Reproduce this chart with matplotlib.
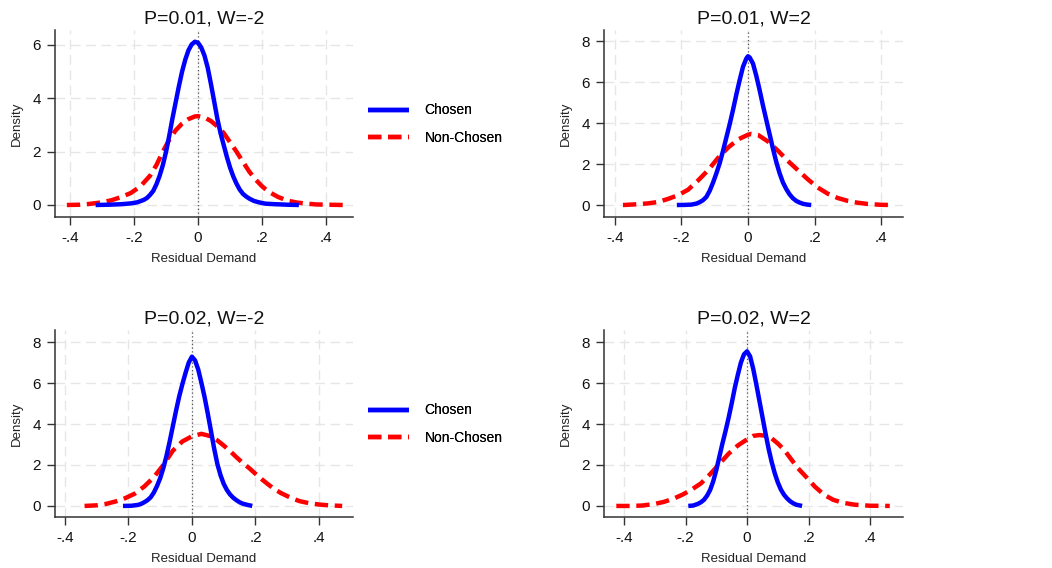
import matplotlib
matplotlib.use("Agg")
import matplotlib.pyplot as plt

plt.rcParams['font.family'] = ['Liberation Sans', 'DejaVu Sans']

# =========================
# Data
# =========================
titles = ["P=0.01, W=-2", "P=0.01, W=2", "P=0.02, W=-2", "P=0.02, W=2"]

# P=0.01, W=-2
chosen_x_1 = [-0.32, -0.28, -0.24, -0.21, -0.19, -0.17, -0.16, -0.15, -0.14, -0.13,
              -0.12, -0.11, -0.10, -0.09, -0.08, -0.07, -0.06, -0.05, -0.04, -0.03,
              -0.02, -0.01, 0.0, 0.01, 0.02, 0.03, 0.04, 0.05, 0.06, 0.07,
              0.08, 0.09, 0.10, 0.11, 0.12, 0.13, 0.14, 0.15, 0.16, 0.175,
              0.19, 0.21, 0.24, 0.28, 0.315]
chosen_y_1 = [0.0, 0.01, 0.03, 0.06, 0.10, 0.19, 0.26, 0.38, 0.53, 0.78,
              1.1, 1.5, 2.0, 2.6, 3.25, 3.85, 4.45, 5.0, 5.45, 5.8,
              6.02, 6.12, 6.08, 5.9, 5.6, 5.15, 4.55, 3.9, 3.25, 2.7,
              2.25, 1.8, 1.4, 1.07, 0.8, 0.58, 0.42, 0.32, 0.24, 0.15,
              0.10, 0.05, 0.03, 0.01, 0.0]
nonchosen_x_1 = [-0.41, -0.37, -0.34, -0.30, -0.27, -0.24, -0.21, -0.18, -0.15, -0.13,
                 -0.11, -0.09, -0.07, -0.05, -0.03, -0.01, 0.0, 0.02, 0.04, 0.06,
                 0.08, 0.10, 0.12, 0.14, 0.16, 0.18, 0.20, 0.22, 0.25, 0.28,
                 0.31, 0.34, 0.37, 0.41, 0.453]
nonchosen_y_1 = [0.0, 0.01, 0.04, 0.10, 0.18, 0.30, 0.45, 0.70, 1.1, 1.5,
                 2.0, 2.45, 2.8, 3.05, 3.22, 3.32, 3.33, 3.28, 3.15, 2.95,
                 2.7, 2.35, 2.0, 1.62, 1.25, 0.95, 0.70, 0.50, 0.30, 0.16,
                 0.09, 0.05, 0.02, 0.01, 0.0]

# P=0.01, W=2
chosen_x_2 = [-0.214, -0.19, -0.17, -0.155, -0.145, -0.135, -0.125, -0.115, -0.105, -0.095,
              -0.085, -0.075, -0.065, -0.055, -0.045, -0.035, -0.025, -0.015, -0.005, 0.0,
              0.005, 0.015, 0.025, 0.035, 0.045, 0.055, 0.065, 0.075, 0.085, 0.095,
              0.105, 0.115, 0.125, 0.135, 0.145, 0.155, 0.165, 0.178, 0.19]
chosen_y_2 = [0.0, 0.005, 0.02, 0.07, 0.14, 0.24, 0.40, 0.70, 1.1, 1.55,
              2.05, 2.65, 3.3, 3.95, 4.65, 5.4, 6.1, 6.75, 7.15, 7.26,
              7.2, 6.9, 6.3, 5.6, 4.85, 4.15, 3.45, 2.75, 2.1, 1.55,
              1.1, 0.78, 0.52, 0.33, 0.20, 0.12, 0.06, 0.02, 0.0]
nonchosen_x_2 = [-0.376, -0.34, -0.30, -0.27, -0.24, -0.21, -0.18, -0.15, -0.12, -0.09,
                 -0.06, -0.03, 0.0, 0.01, 0.03, 0.06, 0.09, 0.12, 0.15, 0.18,
                 0.21, 0.24, 0.27, 0.30, 0.33, 0.36, 0.40, 0.432]
nonchosen_y_2 = [0.0, 0.03, 0.08, 0.15, 0.30, 0.48, 0.75, 1.2, 1.7, 2.3,
                 2.8, 3.2, 3.43, 3.47, 3.42, 3.1, 2.65, 2.15, 1.7, 1.25,
                 0.85, 0.55, 0.34, 0.20, 0.11, 0.05, 0.01, 0.0]

# P=0.02, W=-2
chosen_x_3 = [-0.217, -0.19, -0.17, -0.16, -0.15, -0.14, -0.13, -0.12, -0.11, -0.10,
              -0.09, -0.08, -0.07, -0.06, -0.05, -0.04, -0.03, -0.02, -0.01, 0.0,
              0.01, 0.02, 0.03, 0.04, 0.05, 0.06, 0.07, 0.08, 0.09, 0.10,
              0.11, 0.12, 0.13, 0.14, 0.15, 0.16, 0.175, 0.19]
chosen_y_3 = [0.0, 0.01, 0.05, 0.10, 0.18, 0.28, 0.42, 0.65, 0.97, 1.35,
              1.85, 2.45, 3.15, 3.9, 4.65, 5.35, 5.95, 6.5, 7.0, 7.29,
              7.1, 6.65, 6.0, 5.3, 4.5, 3.65, 2.8, 2.05, 1.5, 1.08,
              0.78, 0.56, 0.40, 0.28, 0.18, 0.11, 0.05, 0.0]
nonchosen_x_3 = [-0.338, -0.30, -0.27, -0.24, -0.21, -0.18, -0.15, -0.12, -0.09, -0.06,
                 -0.03, 0.0, 0.03, 0.06, 0.08, 0.10, 0.12, 0.14, 0.16, 0.18,
                 0.20, 0.22, 0.24, 0.26, 0.28, 0.30, 0.32, 0.34, 0.37, 0.40,
                 0.43, 0.473]
nonchosen_y_3 = [0.0, 0.03, 0.10, 0.22, 0.38, 0.60, 0.95, 1.4, 2.0, 2.7,
                 3.15, 3.4, 3.52, 3.4, 3.2, 2.95, 2.68, 2.38, 2.1, 1.85,
                 1.57, 1.3, 1.05, 0.82, 0.63, 0.48, 0.34, 0.23, 0.13, 0.07,
                 0.03, 0.0]

# P=0.02, W=2
chosen_x_4 = [-0.191, -0.175, -0.16, -0.15, -0.14, -0.13, -0.12, -0.11, -0.10, -0.09,
              -0.08, -0.07, -0.06, -0.05, -0.04, -0.03, -0.02, -0.01, 0.0, 0.01,
              0.02, 0.03, 0.04, 0.05, 0.06, 0.07, 0.08, 0.09, 0.10, 0.11,
              0.12, 0.13, 0.14, 0.15, 0.16, 0.179]
chosen_y_4 = [0.0, 0.02, 0.10, 0.18, 0.30, 0.50, 0.78, 1.2, 1.75, 2.4,
              3.05, 3.65, 4.3, 5.0, 5.75, 6.4, 7.0, 7.4, 7.55, 7.3,
              6.7, 5.95, 5.15, 4.35, 3.55, 2.8, 2.15, 1.6, 1.15, 0.8,
              0.55, 0.37, 0.23, 0.13, 0.06, 0.0]
nonchosen_x_4 = [-0.425, -0.38, -0.34, -0.30, -0.27, -0.24, -0.21, -0.18, -0.15, -0.12,
                 -0.09, -0.06, -0.03, 0.0, 0.02, 0.04, 0.06, 0.08, 0.10, 0.12,
                 0.14, 0.165, 0.195, 0.22, 0.25, 0.28, 0.31, 0.35, 0.40, 0.464]
nonchosen_y_4 = [0.0, 0.0, 0.02, 0.10, 0.20, 0.35, 0.55, 0.80, 1.1, 1.55,
                 2.05, 2.55, 2.95, 3.25, 3.42, 3.46, 3.43, 3.3, 3.05, 2.75,
                 2.35, 1.85, 1.37, 0.95, 0.55, 0.30, 0.16, 0.06, 0.01, 0.0]

x_ticks = [-0.4, -0.2, 0.0, 0.2, 0.4]
x_ticklabels = ["-.4", "-.2", "0", ".2", ".4"]
y_ticks_1 = [0, 2, 4, 6]
y_ticks_other = [0, 2, 4, 6, 8]

panels = [
    (chosen_x_1, chosen_y_1, nonchosen_x_1, nonchosen_y_1, y_ticks_1),
    (chosen_x_2, chosen_y_2, nonchosen_x_2, nonchosen_y_2, y_ticks_other),
    (chosen_x_3, chosen_y_3, nonchosen_x_3, nonchosen_y_3, y_ticks_other),
    (chosen_x_4, chosen_y_4, nonchosen_x_4, nonchosen_y_4, y_ticks_other),
]

# axes boxes in pixels (left, top, right, bottom) and axis limits
W, H = 1052, 568
boxes = [(55, 30, 353, 217), (604, 30, 903, 217), (55, 330, 353, 517), (604, 330, 903, 517)]
xlims = [(-0.447, 0.484), (-0.433, 0.466), (-0.431, 0.507), (-0.465, 0.507)]
ylims = [(-0.45, 6.56), (-0.585, 8.54), (-0.54, 8.59), (-0.54, 8.59)]

# =========================
# Plot
# =========================
fig = plt.figure(figsize=(W / 100, H / 100), dpi=100)
spine_col = "#333333"

for i, (cx, cy, nx, ny, yt) in enumerate(panels):
    l, t, r, b = boxes[i]
    ax = fig.add_axes([l / W, 1 - b / H, (r - l) / W, (b - t) / H])

    for xv in x_ticks:
        ax.axvline(xv, color="#e6e6e6", lw=1.0, ls=(0, (7, 4)), zorder=0)
    for yv in yt:
        ax.axhline(yv, color="#e6e6e6", lw=1.0, ls=(0, (7, 4)), zorder=0)
    ax.axvline(0, color="#555555", lw=0.9, ls=(0, (1, 2)), zorder=1)

    ax.plot(cx, cy, color="#0000ff", lw=3.2, label="Chosen", zorder=3,
            solid_capstyle="butt", solid_joinstyle="round")
    ax.plot(nx, ny, color="#ff0000", lw=3.2, ls=(0, (3.0, 1.5)), label="Non-Chosen",
            zorder=2, dash_capstyle="butt", dash_joinstyle="round")

    ax.set_xlim(*xlims[i])
    ax.set_ylim(*ylims[i])
    ax.set_xticks(x_ticks)
    ax.set_xticklabels(x_ticklabels)
    ax.set_yticks(yt)
    ax.tick_params(axis="both", labelsize=11, length=6, width=1, color=spine_col,
                   pad=4, labelcolor="#111111")

    for s in ["top", "right"]:
        ax.spines[s].set_visible(False)
    for s in ["left", "bottom"]:
        ax.spines[s].set_color(spine_col)
        ax.spines[s].set_linewidth(1.1)

    ax.set_title(titles[i], fontsize=14, pad=5, color="#111111")
    ax.set_xlabel("Residual Demand", fontsize=9.5, labelpad=6, color="#222222")
    ax.set_ylabel("Density", fontsize=9.5, labelpad=7, color="#222222")

    ax.legend(loc="center left", bbox_to_anchor=((362 - l) / (r - l), 1 - 94 / (b - t)),
              frameon=False, fontsize=10, handlelength=3.0, handletextpad=1.1,
              labelspacing=0.95, borderaxespad=0)

plt.savefig("out.png", dpi=100)
